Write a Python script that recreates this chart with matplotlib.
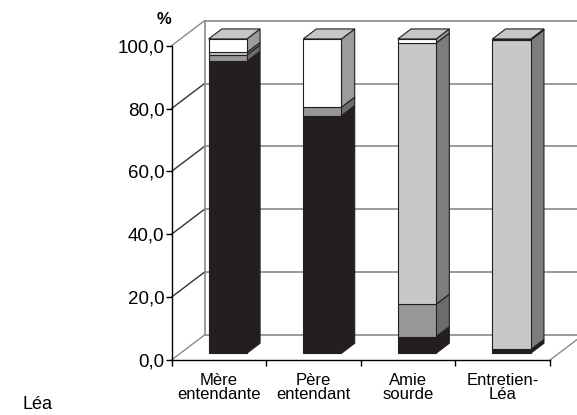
import matplotlib
matplotlib.use("Agg")
import matplotlib.pyplot as plt
from matplotlib.patches import Polygon
from matplotlib.ticker import FixedLocator, FuncFormatter

plt.rcParams['font.family'] = ['Liberation Sans', 'DejaVu Sans']

# Data (percent), stacked from bottom to top
categories = ["Mère\nentendante", "Père\nentendant", "Amie\nsourde", "Entretien-\nLéa"]
black_part = [92.9, 75.6, 5.3, 1.2]
dark_part = [2.0, 2.7, 10.3, 0.0]
light_part = [0.8, 0.0, 83.1, 98.5]
white_part = [4.3, 21.7, 1.3, 0.3]
y_ticks = [0, 20, 40, 60, 80, 100]

series = [black_part, dark_part, light_part, white_part]
front_colors = ['#231f20', '#979797', '#c8c8c8', '#ffffff']
side_colors = ['#231f20', '#6c6c6c', '#7d7d7d', '#9c9c9c']
top_colors = ['#3a3a3a', '#8a8a8a', '#b4b4b4', '#c6c6c6']

W_PX, H_PX = 577, 415
fig = plt.figure(figsize=(W_PX / 100, H_PX / 100), dpi=100)
x0_px, x1_px = 171.5, 550.0
y0_px, y100_px = 360.0, 45.7
ax = fig.add_axes([x0_px / W_PX, (H_PX - y0_px) / H_PX,
                   (x1_px - x0_px) / W_PX, (y0_px - y100_px) / H_PX])
n = len(categories)
ax.set_xlim(0, n)
ax.set_ylim(0, 100)
ax.set_facecolor('none')

# depth of the pseudo-3D box, in data units
px_x = (x1_px - x0_px) / n
px_y = (y0_px - y100_px) / 100
DX = 33 / px_x
DY = 25 / px_y
# bar placement inside the depth and bar width
F0, F1 = 0.27, 0.67
BW = 38.3 / px_x

grid_col = '#8a8a8a'
edge_col = '#231f20'

# back wall grid and side wall lines
for g in y_ticks:
    ax.plot([DX, n + DX + 1], [g + DY, g + DY], color=grid_col, lw=1.2,
            clip_on=False, zorder=1)
    wall_col = grid_col if g in (0, 100) else '#333333'
    ax.plot([0, DX], [g, g + DY], color=wall_col, lw=1.0, clip_on=False, zorder=1)
ax.plot([DX, DX], [DY, 100 + DY], color=grid_col, lw=1.2, clip_on=False, zorder=1)
ax.plot([n, n + DX], [0, DY], color=grid_col, lw=1.0, clip_on=False, zorder=1)

# stacked 3D bars
for i in range(n):
    c = i + 0.5
    xl0 = c - BW / 2 + F0 * DX
    xr0 = c + BW / 2 + F0 * DX
    xl1 = c - BW / 2 + F1 * DX
    xr1 = c + BW / 2 + F1 * DX
    oy0, oy1 = F0 * DY, F1 * DY
    base = 0.0
    top_idx = max(k for k in range(len(series)) if series[k][i] > 0)
    for k, s in enumerate(series):
        v = s[i]
        if v <= 0:
            continue
        b, t = base, base + v
        front = Polygon([(xl0, b + oy0), (xr0, b + oy0), (xr0, t + oy0), (xl0, t + oy0)],
                        closed=True, facecolor=front_colors[k], edgecolor=edge_col,
                        lw=0.8, clip_on=False, zorder=3)
        side = Polygon([(xr0, b + oy0), (xr1, b + oy1), (xr1, t + oy1), (xr0, t + oy0)],
                       closed=True, facecolor=side_colors[k], edgecolor=edge_col,
                       lw=0.8, clip_on=False, zorder=3)
        ax.add_patch(side)
        ax.add_patch(front)
        if k == top_idx:
            top = Polygon([(xl0, t + oy0), (xr0, t + oy0), (xr1, t + oy1), (xl1, t + oy1)],
                          closed=True, facecolor=top_colors[k], edgecolor=edge_col,
                          lw=0.8, clip_on=False, zorder=3)
            ax.add_patch(top)
        base = t

# front axes
for side in ('top', 'right'):
    ax.spines[side].set_visible(False)
for side in ('left', 'bottom'):
    ax.spines[side].set_color('black')
    ax.spines[side].set_linewidth(1.0)
    ax.spines[side].set_zorder(4)

ax.yaxis.set_major_locator(FixedLocator(y_ticks))
ax.yaxis.set_major_formatter(FuncFormatter(lambda v, p: f"{v:.1f}".replace('.', ',')))
ax.tick_params(axis='y', direction='out', length=4, width=1.0, pad=1,
               labelsize=13.5, colors='black')

ax.xaxis.set_major_locator(FixedLocator(list(range(n + 1))))
ax.xaxis.set_minor_locator(FixedLocator([i + 0.5 for i in range(n)]))
ax.set_xticklabels([], minor=False)
ax.set_xticklabels(categories, minor=True, linespacing=0.95)
ax.tick_params(axis='x', which='major', direction='out', length=4.5, width=1.0)
ax.tick_params(axis='x', which='minor', length=0, pad=9, labelsize=12)

fig.text(164 / W_PX, 1 - 19 / H_PX, "%", fontsize=12, fontweight='bold',
         ha='center', va='center')
fig.text(22 / W_PX, 1 - 409 / H_PX, "Léa", fontsize=13, ha='left', va='baseline')

fig.savefig("out.png", dpi=100)
